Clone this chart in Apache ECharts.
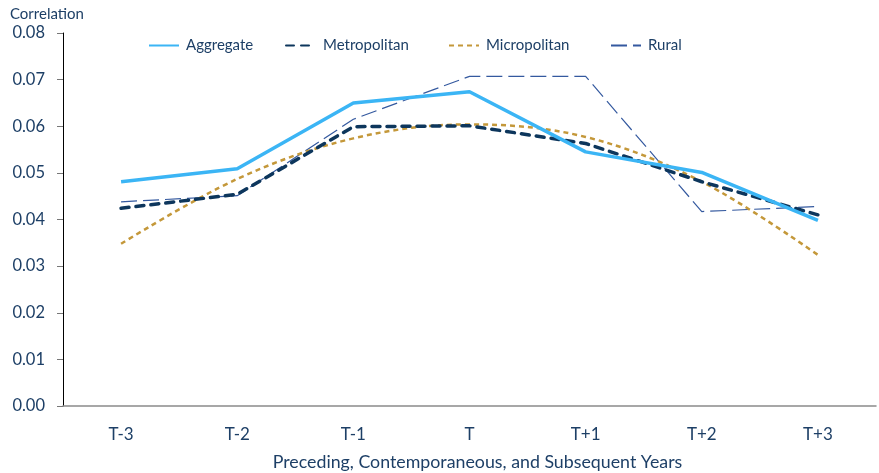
<!DOCTYPE html>
<html>
<head>
<meta charset="utf-8">
<script src="https://cdn.jsdelivr.net/npm/echarts@6/dist/echarts.min.js"></script>
<style>
  html, body { margin: 0; padding: 0; background: #fff; }
  #main { width: 879px; height: 473px; }
</style>
</head>
<body>
<div id="main"></div>
<script>
const years = ["T-3", "T-2", "T-1", "T", "T+1", "T+2", "T+3"];
const aggregate = [0.0481, 0.0509, 0.0650, 0.0674, 0.0545, 0.0501, 0.0398];
const metropolitan = [0.0424, 0.0454, 0.0599, 0.0601, 0.0563, 0.0481, 0.0410];
const micropolitan = [0.0348, 0.0487, 0.0574, 0.0604, 0.0577, 0.0481, 0.0324];
const rural = [0.0438, 0.0451, 0.0615, 0.0707, 0.0707, 0.0417, 0.0428];
const seriesNames = ["Aggregate", "Metropolitan", "Micropolitan", "Rural"];
const legendLeft = [148, 285, 448, 610];

const textColor = "#1d3f66";
const font = "Lato";

var myChart = echarts.init(document.getElementById("main"));

// one legend per item so each sits where the original has it
var legends = seriesNames.map((name, i) => ({
  top: 38,
  left: legendLeft[i],
  padding: 0,
  itemWidth: 30,
  itemHeight: 14,
  itemGap: 0,
  itemStyle: { opacity: 0 },
  textStyle: { fontFamily: font, fontSize: 15, color: textColor, padding: [0, 0, 0, 2] },
  data: [name],
}));

var option = {
  animation: false,
  textStyle: { fontFamily: font, color: textColor },
  legend: legends,
  grid: { left: 63, right: 3, top: 33, bottom: 67, outerBoundsMode: "none" },
  xAxis: {
    type: "category",
    data: years,
    name: "Preceding, Contemporaneous, and Subsequent Years",
    nameLocation: "middle",
    nameGap: 47,
    nameTextStyle: { fontFamily: font, fontSize: 17.8, color: textColor, padding: [0, 0, 0, 16] },
    axisLine: { lineStyle: { color: "#8a8a8a", width: 1.5 } },
    axisTick: { length: 7, lineStyle: { color: "#666" } },
    axisLabel: { fontFamily: font, fontSize: 17, color: textColor, margin: 20 },
  },
  yAxis: {
    type: "value",
    min: 0,
    max: 0.08,
    interval: 0.01,
    name: "Correlation",
    nameLocation: "end",
    nameGap: 11,
    nameTextStyle: {
      fontFamily: font,
      fontSize: 15,
      color: textColor,
      align: "left",
      padding: [0, 0, 0, -53],
    },
    axisLine: { show: true, lineStyle: { color: "#000", width: 1 } },
    axisTick: { show: true, length: 6, lineStyle: { color: "#777" } },
    splitLine: { show: false },
    axisLabel: {
      fontFamily: font,
      fontSize: 16.5,
      color: textColor,
      margin: 18,
      formatter: (v) => v.toFixed(2),
    },
  },
  series: [
    {
      name: "Aggregate",
      type: "line",
      data: aggregate,
      symbol: "none",
      z: 4,
      lineStyle: { color: "#3bb5f5", width: 3.5 },
      itemStyle: { color: "#3bb5f5" },
    },
    {
      name: "Metropolitan",
      type: "line",
      data: metropolitan,
      symbol: "none",
      z: 3,
      lineStyle: { color: "#0d365c", width: 3.5, type: [8, 7], cap: "round" },
      itemStyle: { color: "#0d365c" },
    },
    {
      name: "Micropolitan",
      type: "line",
      data: micropolitan,
      symbol: "none",
      smooth: 0.35,
      z: 2,
      lineStyle: { color: "#c4983a", width: 2.5, type: [5, 4] },
      itemStyle: { color: "#c4983a" },
    },
    {
      name: "Rural",
      type: "line",
      data: rural,
      symbol: "none",
      z: 1,
      lineStyle: { color: "#34599f", width: 1.2, type: [16, 6] },
      itemStyle: { color: "#34599f" },
    },
  ],
};

myChart.setOption(option);
</script>
</body>
</html>
